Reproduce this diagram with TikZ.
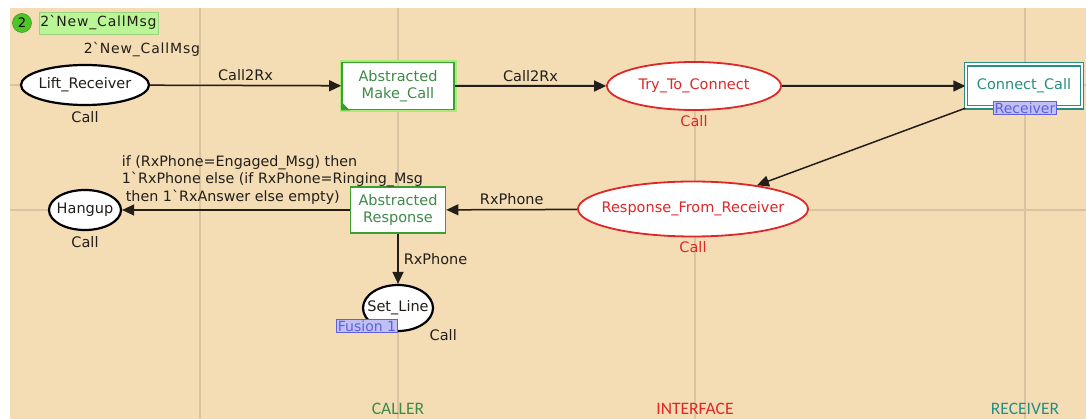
\documentclass[tikz,border=0pt]{standalone}
\usepackage{fontspec}
\setmainfont{DejaVu Sans}
\newfontfamily\lanefont{Carlito}
\newfontfamily\markfont[LetterSpace=6]{DejaVu Sans}
\usetikzlibrary{shapes,arrows.meta,positioning}
\definecolor{paper}{RGB}{244,221,181}
\definecolor{gridline}{RGB}{216,196,160}
\definecolor{trgreen}{RGB}{58,160,48}
\definecolor{glowgreen}{RGB}{170,235,120}
\definecolor{txgreen}{RGB}{62,138,72}
\definecolor{ifred}{RGB}{222,40,40}
\definecolor{rxteal}{RGB}{40,142,130}
\definecolor{tagblue}{RGB}{96,96,220}
\definecolor{tagfill}{RGB}{192,192,246}
\definecolor{arcline}{RGB}{36,30,24}
\definecolor{inktext}{RGB}{34,30,26}
\definecolor{tokgreen}{RGB}{78,196,40}
\definecolor{tokfill}{RGB}{186,246,150}

\begin{document}
\begin{tikzpicture}[x=1pt, y=-1pt, font=\fontsize{14.5}{17}\selectfont, >={Triangle[length=12pt,width=11pt]}]
    \tikzstyle{place}   = [draw=black, ellipse, fill=white, line width=2.2pt, text=inktext, inner xsep=-20pt, inner ysep=0pt]
    \tikzstyle{ifplace} = [place, draw=ifred, line width=1.8pt, text=ifred]
    \tikzstyle{trans}   = [draw=trgreen, rectangle, fill=white, line width=1.8pt, text=txgreen, align=center, inner sep=2pt]
    \tikzstyle{subst}   = [draw=rxteal, rectangle, fill=white, line width=1.4pt, double=white, double distance=2pt, text=rxteal, inner sep=2pt]
    \tikzstyle{tag}     = [draw=tagblue, fill=tagfill, text=tagblue, line width=1pt, inner sep=1pt, font=\fontsize{14}{15}\selectfont]
    \tikzstyle{arc}     = [draw=arcline, line width=1.5pt, ->]
    \tikzstyle{inscr}   = [text=inktext, inner sep=2pt]
    \tikzstyle{lane}    = [font=\lanefont\fontsize{17.5}{20}\selectfont]

    % page and lane grid
    \useasboundingbox (0,0) rectangle (1086,419);
    \fill[white] (0,0) rectangle (1086,419);
    \fill[paper] (10,8) rectangle (1086,419);
    \foreach \gx in {200,398,695,1025}
        \draw[gridline, line width=1.2pt] (\gx,8) -- (\gx,419);
    \foreach \gy in {85,210}
        \draw[gridline, line width=1.2pt] (10,\gy) -- (1086,\gy);

    % caller side
    \node [place, minimum width=128pt, minimum height=40pt] (lift) at (85,85) {Lift\_Receiver};
    \node [inscr, below=3pt of lift] (liftcs) {Call};
    \node [inscr, font=\markfont\fontsize{14}{16}\selectfont] (liftinit) at (142,50) {2\textasciigrave New\_CallMsg};
    \node [circle, fill=tokgreen, draw=tokgreen!80!black, line width=0.6pt, minimum size=19pt, inner sep=0pt, font=\fontsize{13}{14}\selectfont] (tok) at (22,23) {2};
    \node [fill=tokfill, draw=tokfill!85!black, line width=0.4pt, minimum width=119pt, minimum height=22pt, inner sep=1pt, right=7pt of tok, text=inktext, font=\markfont\fontsize{14}{16}\selectfont] (toklabel) {2\textasciigrave New\_CallMsg};

    \node [trans, minimum width=112pt, minimum height=47pt, preaction={draw=glowgreen, line width=5pt}] (makecall) at (398,86) {Abstracted\\Make\_Call};
    \fill[trgreen] (makecall.south west) -- ++(9,0) -- ++(-9,-9) -- cycle;

    \node [trans, minimum width=95pt, minimum height=46pt] (absresp) at (398,210) {Abstracted\\Response};
    \node [place, minimum width=72pt, minimum height=40pt] (hangup) at (85,210) {Hangup};
    \node [inscr, below=3pt of hangup] (hangupcs) {Call};

    \node [place, minimum width=70pt, minimum height=46pt, inner xsep=-30pt] (setline) at (398,308) {Set\_Line};
    \node [tag] (fusion) at (367,326) {Fusion 1};
    \node [inscr, anchor=north west] (setlinecs) at ([xshift=4pt, yshift=-2pt]setline.south east) {Call};

    % interface
    \node [ifplace, minimum width=174pt, minimum height=48pt] (tryconn) at (694,86) {Try\_To\_Connect};
    \node [inscr, text=ifred, below=2pt of tryconn] (trycs) {Call};
    \node [ifplace, minimum width=230pt, minimum height=55pt, inner xsep=-30pt] (response) at (693,209) {Response\_From\_Receiver};
    \node [inscr, text=ifred, below=2pt of response] (respcs) {Call};

    % receiver
    \node [subst, minimum width=116pt, minimum height=43pt] (connect) at (1024,86) {Connect\_Call};
    \node [tag] (rxtag) at (1025,108) {Receiver};

    % arcs
    \draw [arc] (lift) -- node[inscr, above=2pt] {Call2Rx} (makecall);
    \draw [arc] (makecall) -- node[inscr, above=2pt] {Call2Rx} (tryconn);
    \draw [arc] (tryconn) -- (connect);
    \draw [arc] (connect.south west) -- (response);
    \draw [arc] (response) -- node[inscr, above=2pt] {RxPhone} (absresp);
    \draw [arc] (absresp) -- node[inscr, pos=1, anchor=south west, align=left, font=\fontsize{14.3}{17.5}\selectfont, xshift=-3pt, yshift=3pt] {if (RxPhone=Engaged\_Msg) then\\1\textasciigrave RxPhone else (if RxPhone=Ringing\_Msg\\\hspace{4pt}then 1\textasciigrave RxAnswer else empty)} (hangup);
    \draw [arc] (absresp) -- node[inscr, right=3pt] {RxPhone} (setline);

    % lane names
    \node [lane, text=txgreen] (callerlane) at (398,409) {CALLER};
    \node [lane, text=ifred] (iflane) at (695,409) {INTERFACE};
    \node [lane, text=rxteal] (rxlane) at (1025,409) {RECEIVER};
\end{tikzpicture}
\end{document}
